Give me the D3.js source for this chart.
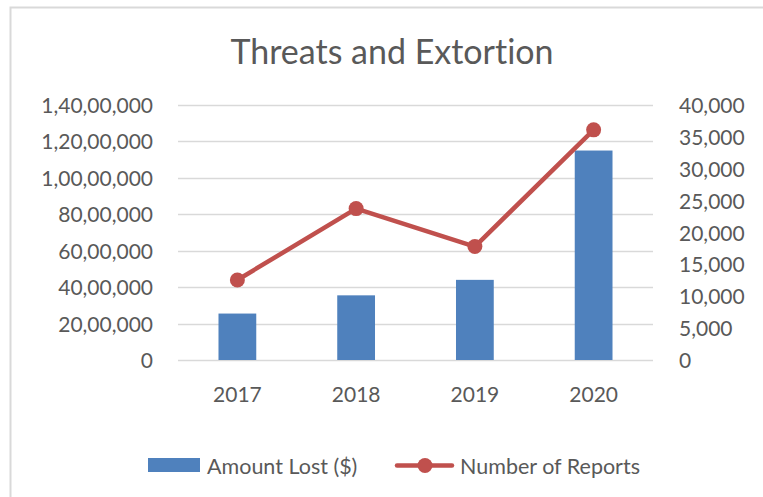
<!DOCTYPE html>
<html>
<head>
<meta charset="utf-8">
<script src="https://cdn.jsdelivr.net/npm/d3@7"></script>
<style>
  html, body { margin: 0; padding: 0; background: #ffffff; }
  svg { display: block; }
  text { font-family: Lato, "Open Sans", sans-serif; fill: #595959; font-variant-ligatures: none; font-feature-settings: "liga" 0; }
</style>
</head>
<body>
<svg id="chart" width="763" height="497"></svg>
<script>
const title = "Threats and Extortion";
const years = ["2017", "2018", "2019", "2020"];
const amountLost = [2550000, 3550000, 4400000, 11500000];
const reports = [12550, 23750, 17800, 36100];
const leftTickValues = [0, 2000000, 4000000, 6000000, 8000000, 10000000, 12000000, 14000000];
const leftTickLabels = ["0", "20,00,000", "40,00,000", "60,00,000", "80,00,000", "1,00,00,000", "1,20,00,000", "1,40,00,000"];
const rightTickValues = [0, 5000, 10000, 15000, 20000, 25000, 30000, 35000, 40000];
const rightTickLabels = ["0", "5,000", "10,000", "15,000", "20,000", "25,000", "30,000", "35,000", "40,000"];
const seriesNames = ["Amount Lost ($)", "Number of Reports"];

const barColor = "#4F81BD";
const lineColor = "#C0504D";
const gridColor = "#D9D9D9";
const axisFont = "21px";
const legendFont = "21.5px";

const svg = d3.select("#chart");
const plot = { left: 178, right: 653, top: 105, bottom: 360 };

// chart border
svg.append("rect")
  .attr("x", 10.5).attr("y", 7.5)
  .attr("width", 900).attr("height", 700)
  .attr("fill", "none").attr("stroke", gridColor).attr("stroke-width", 2);

const x = d3.scaleBand().domain(years)
  .range([plot.left, plot.right])
  .paddingInner(0.682).paddingOuter(0.341);
const yL = d3.scaleLinear().domain([0, 14000000]).range([plot.bottom, plot.top]);
const yR = d3.scaleLinear().domain([0, 40000]).range([plot.bottom, plot.top]);

// gridlines
svg.append("g").selectAll("line").data(leftTickValues).join("line")
  .attr("x1", plot.left).attr("x2", plot.right)
  .attr("y1", d => Math.round(yL(d)) + 0.5).attr("y2", d => Math.round(yL(d)) + 0.5)
  .attr("stroke", gridColor).attr("stroke-width", 1.3);

// left axis
const leftAxis = d3.axisLeft(yL).tickValues(leftTickValues)
  .tickFormat((d, i) => leftTickLabels[i]).tickSize(0).tickPadding(25);
const gl = svg.append("g").attr("transform", `translate(${plot.left},0)`).call(leftAxis);
gl.select(".domain").remove();
gl.selectAll("text").style("font-size", axisFont).attr("fill", "#595959").attr("dy", "0.36em");

// right axis
const rightAxis = d3.axisRight(yR).tickValues(rightTickValues)
  .tickFormat((d, i) => rightTickLabels[i]).tickSize(0).tickPadding(26);
const gr = svg.append("g").attr("transform", `translate(${plot.right},0)`).call(rightAxis);
gr.select(".domain").remove();
gr.selectAll("text").style("font-size", axisFont).attr("fill", "#595959").attr("dy", "0.36em");

// bottom axis
const bottomAxis = d3.axisBottom(x).tickSize(0).tickPadding(27);
const gb = svg.append("g").attr("transform", `translate(0,${plot.bottom})`).call(bottomAxis);
gb.select(".domain").remove();
gb.selectAll("text").style("font-size", axisFont).attr("fill", "#595959");

// bars
svg.append("g").selectAll("rect").data(years).join("rect")
  .attr("x", d => x(d))
  .attr("width", x.bandwidth())
  .attr("y", (d, i) => yL(amountLost[i]))
  .attr("height", (d, i) => yL(0) - yL(amountLost[i]))
  .attr("fill", barColor);

// line
const cx = d => x(d) + x.bandwidth() / 2;
const line = d3.line().x((d, i) => cx(years[i])).y(d => yR(d));
svg.append("path").datum(reports)
  .attr("d", line)
  .attr("fill", "none").attr("stroke", lineColor)
  .attr("stroke-width", 4.5).attr("stroke-linejoin", "round").attr("stroke-linecap", "round");
svg.append("g").selectAll("circle").data(reports).join("circle")
  .attr("cx", (d, i) => cx(years[i])).attr("cy", d => yR(d))
  .attr("r", 7.5).attr("fill", lineColor);

// title
svg.append("text").attr("x", 392).attr("y", 64)
  .attr("text-anchor", "middle").style("font-size", "34px").text(title);

// legend
const lg = svg.append("g");
lg.append("rect").attr("x", 148).attr("y", 458).attr("width", 52).attr("height", 14).attr("fill", barColor);
lg.append("text").attr("x", 207).attr("y", 473.5).style("font-size", legendFont).text(seriesNames[0]);
lg.append("line").attr("x1", 397).attr("x2", 452).attr("y1", 465.5).attr("y2", 465.5)
  .attr("stroke", lineColor).attr("stroke-width", 4.5).attr("stroke-linecap", "round");
lg.append("circle").attr("cx", 425).attr("cy", 465.5).attr("r", 7.5).attr("fill", lineColor);
lg.append("text").attr("x", 460).attr("y", 473.5).style("font-size", legendFont).text(seriesNames[1]);
</script>
</body>
</html>
